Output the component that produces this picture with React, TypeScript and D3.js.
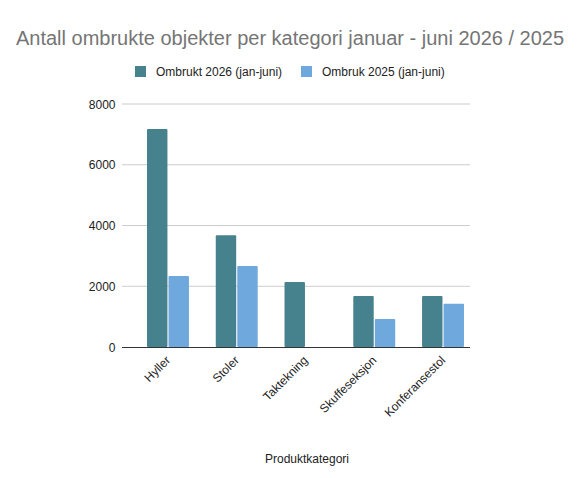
import React, { useEffect, useRef } from "react";
import * as d3 from "d3";

const categories = ["Hyller", "Stoler", "Taktekning", "Skuffeseksjon", "Konferansestol"];
const series = ["Ombrukt 2026 (jan-juni)", "Ombruk 2025 (jan-juni)"];
const values2026 = [7180, 3680, 2140, 1680, 1680];
const values2025 = [2340, 2670, 0, 920, 1420];
const yTicks = [0, 2000, 4000, 6000, 8000];
const colors = ["#46818e", "#6fa8dc"];

const width = 588;
const height = 478;
const font = "Arial, 'Liberation Sans', sans-serif";

const App = () => {
  const svgRef = useRef<SVGSVGElement>(null);

  useEffect(() => {
    const svg = d3.select(svgRef.current);
    svg.selectAll("*").remove();

    // plot area
    const left = 122;
    const right = 470;
    const top = 104;
    const bottom = 347;

    const y = d3.scaleLinear().domain([0, 8000]).range([bottom, top]);
    const x = d3
      .scaleBand<string>()
      .domain(categories)
      .range([133.6, 477.4])
      .paddingInner(0.39)
      .paddingOuter(0.195);
    const inner = d3
      .scaleBand<string>()
      .domain(series)
      .range([0, x.bandwidth()])
      .paddingInner(0.05);

    // title
    svg
      .append("text")
      .attr("x", 290)
      .attr("y", 45)
      .attr("text-anchor", "middle")
      .attr("font-family", font)
      .attr("font-size", 20)
      .attr("fill", "#757575")
      .text("Antall ombrukte objekter per kategori januar - juni 2026 / 2025");

    // legend
    const legendX = [135, 301];
    series.forEach((s, i) => {
      svg
        .append("rect")
        .attr("x", legendX[i])
        .attr("y", 66)
        .attr("width", 11)
        .attr("height", 11)
        .attr("fill", colors[i]);
      svg
        .append("text")
        .attr("x", legendX[i] + 21)
        .attr("y", 76)
        .attr("font-family", font)
        .attr("font-size", 12)
        .attr("fill", "#222")
        .text(s);
    });

    // gridlines and y labels
    const yAxis = svg.append("g");
    yTicks.forEach((t) => {
      if (t !== 0) {
        yAxis
          .append("line")
          .attr("x1", left)
          .attr("x2", right)
          .attr("y1", y(t))
          .attr("y2", y(t))
          .attr("stroke", "#cccccc");
      }
      yAxis
        .append("text")
        .attr("x", 115.5)
        .attr("y", y(t) + 4.5)
        .attr("text-anchor", "end")
        .attr("font-family", font)
        .attr("font-size", 12)
        .attr("fill", "#222")
        .text(t);
    });

    // bars
    const data = [values2026, values2025];
    categories.forEach((c, ci) => {
      series.forEach((s, si) => {
        const v = data[si][ci];
        if (!v) return;
        svg
          .append("rect")
          .attr("x", (x(c) ?? 0) + (inner(s) ?? 0))
          .attr("y", y(v))
          .attr("width", inner.bandwidth())
          .attr("height", y(0) - y(v))
          .attr("rx", 1)
          .attr("fill", colors[si]);
      });
    });

    // baseline
    svg
      .append("line")
      .attr("x1", left)
      .attr("x2", right)
      .attr("y1", bottom + 0.5)
      .attr("y2", bottom + 0.5)
      .attr("stroke", "#333");

    // x labels
    categories.forEach((c) => {
      const cx = (x(c) ?? 0) + x.bandwidth() / 2 + 3;
      svg
        .append("text")
        .attr("transform", `translate(${cx},${bottom + 14}) rotate(-45)`)
        .attr("text-anchor", "end")
        .attr("font-family", font)
        .attr("font-size", 12)
        .attr("fill", "#222")
        .text(c);
    });

    // x axis title
    svg
      .append("text")
      .attr("x", 307)
      .attr("y", 463)
      .attr("text-anchor", "middle")
      .attr("font-family", font)
      .attr("font-size", 12)
      .attr("fill", "#222")
      .text("Produktkategori");
  }, []);

  return (
    <svg
      ref={svgRef}
      width={width}
      height={height}
      style={{ position: "absolute", left: 0, top: 0, background: "#fff" }}
    />
  );
};

export default App;
